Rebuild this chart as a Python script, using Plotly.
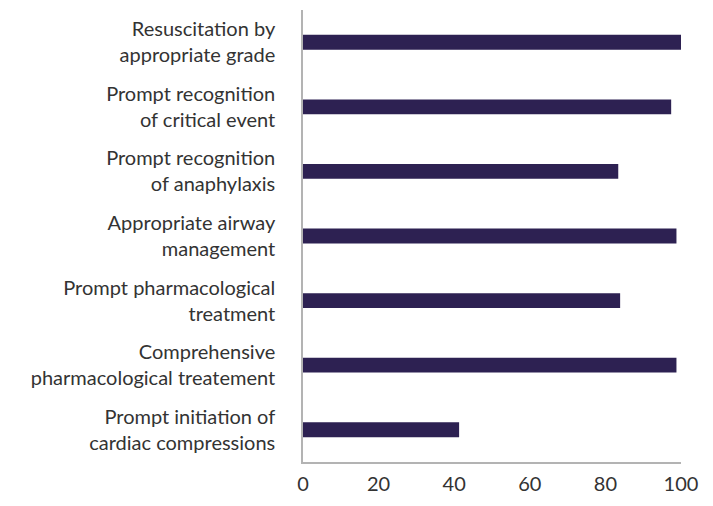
import plotly.graph_objects as go

# categories top to bottom
categories = [
    "Resuscitation by<br>appropriate grade",
    "Prompt recognition<br>of critical event",
    "Prompt recognition<br>of anaphylaxis",
    "Appropriate airway<br>management",
    "Prompt pharmacological<br>treatment",
    "Comprehensive<br>pharmacological treatement",
    "Prompt initiation of<br>cardiac compressions",
]
values = [100, 97.4, 83.4, 98.8, 83.9, 98.8, 41.3]
x_ticks = [0, 20, 40, 60, 80, 100]

fig = go.Figure()
fig.add_trace(go.Bar(
    x=values,
    y=categories,
    orientation="h",
    marker=dict(color="#2d2152", line=dict(width=0)),
    showlegend=False,
))

# page has an 8px body margin, so the figure is a bit smaller than the window
fig.update_layout(
    width=697,
    height=490,
    margin=dict(l=295, r=24, t=2, b=36),
    paper_bgcolor="white",
    plot_bgcolor="white",
    bargap=0.77,
    font=dict(family="Lato, Noto Sans, sans-serif", size=20, color="#333333"),
)
fig.update_xaxes(
    range=[0, 100],
    tickvals=x_ticks,
    showgrid=False,
    zeroline=False,
    showline=True,
    linecolor="#b3b3b3",
    linewidth=1.5,
    ticks="",
    ticklabelstandoff=3,
    tickfont=dict(size=20),
    automargin=False,
)
fig.update_yaxes(
    categoryorder="array",
    categoryarray=categories[::-1],
    showgrid=False,
    zeroline=False,
    showline=True,
    linecolor="#b3b3b3",
    linewidth=1.5,
    ticks="",
    ticklabelstandoff=22,
    automargin=False,
)

fig.write_html("out.html")
